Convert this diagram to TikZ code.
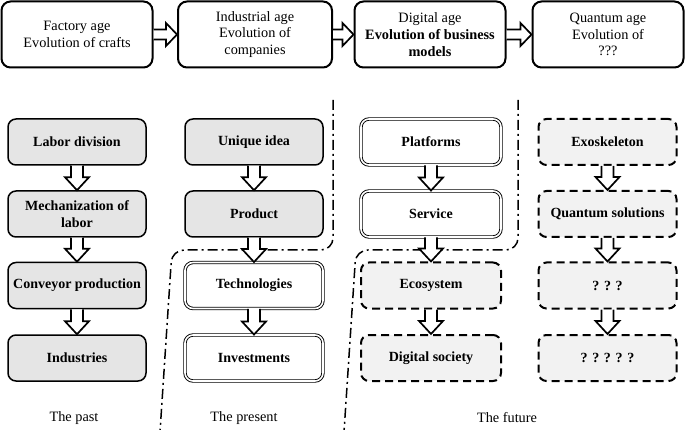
\documentclass[tikz,border=0pt]{standalone}
\usepackage{fontspec}
\setmainfont{Liberation Serif}
\usetikzlibrary{calc}
\tikzset{
  topbox/.style={draw, line width=2pt, rounded corners=9pt, fill=white, minimum width=151pt, minimum height=66pt, align=center, font=\fontsize{14.3}{16.7}\selectfont},
  basebox/.style={rounded corners=8pt, minimum width=138pt, minimum height=46pt, align=center, font=\fontsize{14}{16.5}\selectfont\bfseries},
  graybox/.style={basebox, draw, line width=1.5pt, fill=black!10},
  dblbox/.style={basebox, draw, line width=0.9pt, double=white, double distance=1.6pt, fill=white},
  dashbox/.style={basebox, draw, line width=2pt, dash pattern=on 8pt off 5pt, fill=black!5},
  arrowst/.style={draw, fill=white, line width=1.7pt, line join=miter},
  divider/.style={draw, line width=1.5pt, dash pattern=on 10pt off 4pt on 2pt off 4pt, rounded corners=12pt},
  lbl/.style={font=\fontsize{14.3}{16.7}\selectfont}
}
\newcommand\harr[2]{\draw[arrowst] let \p1=(#1.east), \p2=(#2.west) in (\x1,\y1+5pt) -- (\x2-11pt,\y1+5pt) -- (\x2-11pt,\y1+11.5pt) -- (\x2,\y1) -- (\x2-11pt,\y1-11.5pt) -- (\x2-11pt,\y1-5pt) -- (\x1,\y1-5pt);}
\newcommand\varr[2]{\draw[arrowst] let \p1=(#1.south), \p2=(#2.north) in (\x1-6pt,\y1) -- (\x1-6pt,\y2+13pt) -- (\x1-12pt,\y2+13pt) -- (\x1,\y2) -- (\x1+12pt,\y2+13pt) -- (\x1+6pt,\y2+13pt) -- (\x1+6pt,\y1);}
\begin{document}
\begin{tikzpicture}[x=1pt,y=-1pt]
\useasboundingbox (0,0) rectangle (685,430);
% top row
\node[topbox] (t1) at (77,34.5) {Factory age\\Evolution of crafts};
\node[topbox, minimum width=154pt] (t2) at (255,34.5) {Industrial age\\Evolution of\\companies};
\node[topbox] (t3) at (430,34.5) {Digital age\\\textbf{Evolution of business}\\\textbf{models}};
\node[topbox] (t4) at (608,34.5) {Quantum age\\Evolution of\\???};
\harr{t1}{t2}
\harr{t2}{t3}
\harr{t3}{t4}
% dividers
\coordinate (d1a) at (333,100);
\coordinate (d1b) at (333,250);
\coordinate (d1c) at (172,250);
\coordinate (d1d) at (160,432);
\coordinate (d2a) at (518,100);
\coordinate (d2b) at (518,250);
\coordinate (d2c) at (356,250);
\coordinate (d2d) at (344,432);
\draw[divider] (d1a) -- (d1b) -- (d1c) -- (d1d);
\draw[divider] (d2a) -- (d2b) -- (d2c) -- (d2d);
% column 1
\node[graybox] (a1) at (77,142) {Labor division};
\node[graybox] (a2) at (77,214) {Mechanization of\\labor};
\node[graybox] (a3) at (77,285.5) {Conveyor production};
\node[graybox] (a4) at (77,358) {Industries};
% column 2
\node[graybox] (b1) at (254,142) {Unique idea};
\node[graybox] (b2) at (254,214) {Product};
\node[dblbox] (b3) at (254,285.5) {Technologies};
\node[dblbox] (b4) at (254,358) {Investments};
% column 3
\node[dblbox, minimum width=140pt] (c1) at (431,142) {Platforms};
\node[dblbox, minimum width=140pt] (c2) at (431,214) {Service};
\node[dashbox, minimum width=140pt] (c3) at (431,285.5) {Ecosystem};
\node[dashbox, minimum width=140pt] (c4) at (431,358) {Digital society};
% column 4
\node[dashbox] (e1) at (607.5,142) {Exoskeleton};
\node[dashbox] (e2) at (607.5,214) {Quantum solutions};
\node[dashbox] (e3) at (607.5,285.5) {? ? ?};
\node[dashbox] (e4) at (607.5,358) {? ? ? ? ?};
% arrows
\varr{a1}{a2}\varr{a2}{a3}\varr{a3}{a4}
\varr{b1}{b2}\varr{b2}{b3}\varr{b3}{b4}
\varr{c1}{c2}\varr{c2}{c3}\varr{c3}{c4}
\varr{e1}{e2}\varr{e2}{e3}\varr{e3}{e4}
% labels
\node[lbl] (l1) at (74,418) {The past};
\node[lbl] (l2) at (244,418) {The present};
\node[lbl] (l3) at (507,418) {The future};
\end{tikzpicture}
\end{document}
